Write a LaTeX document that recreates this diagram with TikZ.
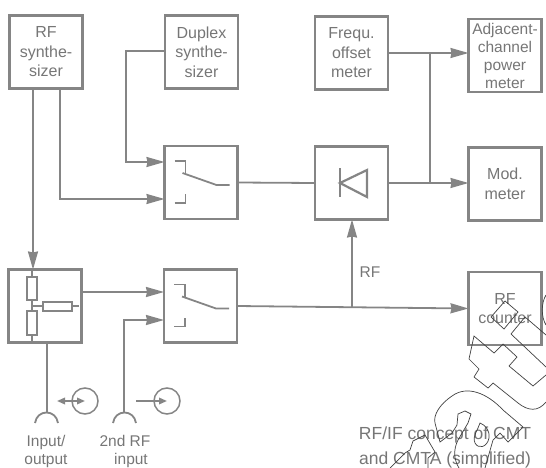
\documentclass[tikz,border=0pt]{standalone}
\usepackage{fontspec}
\setmainfont{Liberation Sans}
\usetikzlibrary{arrows.meta, calc}
\definecolor{BGray}{HTML}{858585}
\definecolor{TGray}{HTML}{767676}
\tikzset{
  block/.style={draw=BGray, line width=2.4pt, minimum size=73pt, inner sep=0pt, outer sep=0pt,
    align=center, text=TGray, font=\fontsize{16}{19.5}\selectfont},
  wire/.style={draw=BGray, line width=1.8pt},
  feed/.style={wire, -{Stealth[length=18pt, width=10pt, inset=1pt]}},
  small/.style={wire, {Stealth[length=8pt, width=6.5pt, inset=0pt]}-{Stealth[length=8pt, width=6.5pt, inset=0pt]}},
  label/.style={text=TGray, align=center, inner sep=0pt, font=\fontsize{15.5}{18}\selectfont},
  stamp/.style={draw=black!75, line width=0.7pt, line join=miter},
}
\begin{document}
\begin{tikzpicture}[x=1pt, y=-1pt]
  \useasboundingbox (0,0) rectangle (546,468);
  % Blocks
  \node[block] (rfsynth) at (46,52) {RF\\synthe-\\sizer};
  \node[block] (duplex) at (201.5,52) {Duplex\\synthe-\\sizer};
  \node[block] (freq) at (351.5,53) {Frequ.\\offset\\meter};
  \node[block, font=\fontsize{15.5}{18}\selectfont] (adjacent) at (505,55.5) {Adjacent-\\channel\\power\\meter};
  \node[block] (swa) at (201,182.5) {};
  \node[block] (detect) at (351.5,183) {};
  \node[block] (mod) at (505,184) {Mod.\\meter};
  \node[block] (divider) at (45,306) {};
  \node[block] (swb) at (200.5,306) {};
  \node[block] (counter) at (505,308.5) {RF\\counter};
  % Jacks
  \coordinate (jacka) at (47,413);
  \coordinate (jackb) at (124,413);
  \draw[wire] (35,423) .. controls (37,409) and (56,409) .. (58,423);
  \draw[wire] (113,423) .. controls (115,409) and (134,409) .. (136,423);
  % Connectors
  \draw[feed] (rfsynth.south -| 33,0) -- (divider.north -| 33,0);
  \draw[feed] (rfsynth.south -| 60,0) |- (swa.west |- 0,199);
  \draw[feed] (duplex.west |- 0,51) -- (126,51) |- (swa.west |- 0,162);
  \draw[wire] (swa.east) -- (detect.west);
  \draw[feed] (detect.east) -- (detect.east -| mod.west);
  \draw[feed] (freq.east) -- (freq.east -| adjacent.west);
  \coordinate (tapa) at (430,53);
  \coordinate (tapb) at (430,183);
  \draw[wire] (tapa) -- (tapb);
  \draw[feed] (divider.east |- 0,292) -- (swb.west |- 0,292);
  \draw[feed] (jackb) |- (swb.west |- 0,320);
  \draw[wire] (jacka) -- (divider.south -| jacka);
  \draw[feed] (swb.east) -- (counter.west);
  \draw[feed] (352,306.5) -- (detect.south -| 352,0);
  % Switches
  \foreach \sw in {swa, swb} {
    \begin{scope}[shift={(\sw.north west)}]
      \draw[wire] (10,15) -- (21,15) -- (21,27);
      \draw[wire] (10,57) -- (21,57) -- (21,48);
      \draw[wire] (18,27) -- (52,39) -- (65,39);
    \end{scope}
  }
  % Diode
  \draw[wire, line width=2.2pt] (340,168) -- (340,197);
  \draw[wire, line width=2.2pt] (340,183) -- (367,170) -- (367,197) -- cycle;
  % Divider
  \draw[wire] (32,269) -- (32,343);
  \draw[wire] (32,306) -- (79,306);
  \draw[wire, fill=white] (27,277) rectangle (37,300);
  \draw[wire, fill=white] (27,311) rectangle (37,335);
  \draw[wire, fill=white] (43,302) rectangle (72,311);
  % Direction marks
  \node[draw=BGray, line width=1.5pt, circle, minimum size=26pt, inner sep=0pt] (porta) at (85,401) {};
  \node[draw=BGray, line width=1.5pt, circle, minimum size=26pt, inner sep=0pt] (portb) at (167,401) {};
  \draw[small] (57,401) -- (porta.center);
  \draw[wire, -{Stealth[length=8pt, width=6.5pt, inset=0pt]}] (136,401) -- (portb.center);
  % Labels
  \node[label] (rflabel) at (370,272) {RF};
  \node[label] (inlabel) at (46,451) {Input/\\output};
  \node[label] (seclabel) at (125,451) {2nd RF\\\hspace*{12pt}input};
  \node[label, font=\fontsize{17.5}{24.5}\selectfont] (caption) at (445,447.5) {RF/IF concept of CMT\\and CMTA (simplified)};
  % Stamp
  \draw[stamp] (505,301) -- (518,312) -- (504,329) -- (491,317) -- cycle;
  \draw[stamp] (546,335) -- (525,317) -- (511,334) -- (546,367);
  \draw[stamp] (546,375) -- (533,386) -- (509,366) -- (517,357) -- (503,344) -- (494,353) -- (474,336) -- (469,359)
    -- (479,369) -- (474,377) -- (488,388) -- (493,383) -- (518,403) .. controls (528,411) and (538,412) .. (546,402);
  \draw[stamp] (546,295) .. controls (541,303) and (541,317) .. (546,325);
  \draw[stamp] (523,427) -- (508,442) -- (500,433) -- (493,440) -- (485,468);
  \draw[stamp] (523,427) -- (503,410) .. controls (487,393) and (467,385) .. (452,396)
    .. controls (440,404) and (433,415) .. (435,423) -- (440,442) -- (452,433) -- (457,425)
    -- (458,414) -- (465,411) -- (471,414) -- (468,423) -- (458,440) .. controls (453,450) and (454,460) .. (459,468);
  \draw[stamp] (480,423) .. controls (485,425) and (490,430) .. (489,438)
    .. controls (487,448) and (478,449) .. (475,443) .. controls (472,436) and (478,430) .. (480,423) -- cycle;
  \draw[stamp] (390,468) -- (405,453) -- (410,450) -- (413,441) -- (425,435) -- (435,452) -- (428,458) -- (428,468);
\end{tikzpicture}
\end{document}
